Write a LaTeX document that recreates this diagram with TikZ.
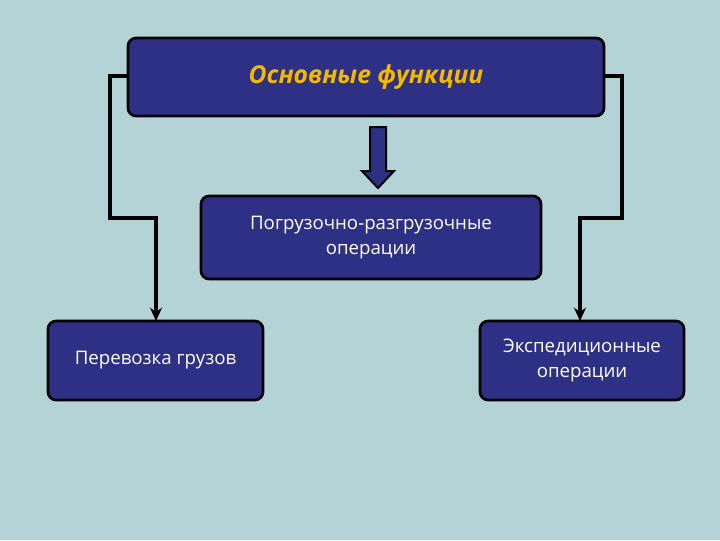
\documentclass[tikz,border=0pt]{standalone}
\usepackage{fontspec}
\setmainfont{Open Sans}
\usetikzlibrary{arrows.meta}
\definecolor{bg}{HTML}{B4D3D6}
\definecolor{navy}{HTML}{2E3085}
\definecolor{gold}{HTML}{F5B800}
\tikzset{
  box/.style={draw=black, line width=2pt, fill=navy, rounded corners=6pt, text=white, align=center, font=\fontsize{14}{19}\selectfont, inner sep=0pt},
  conn/.style={draw=black, line width=3pt, -{Stealth[length=10pt,width=9pt]}},
}
\begin{document}
\begin{tikzpicture}[x=0.75pt,y=-0.75pt]
\fill[bg] (0,0) rectangle (720,540);
\useasboundingbox (0,0) rectangle (720,540);
\node[box, minimum width=476*0.75pt, minimum height=78*0.75pt, text=gold, font=\fontsize{18.5}{22}\selectfont\bfseries\itshape] (top) at (366,77) {Основные функции};
\node[box, minimum width=340*0.75pt, minimum height=83*0.75pt] (mid) at (371,237.5) {Погрузочно-разгрузочные\\операции};
\node[box, minimum width=215*0.75pt, minimum height=79*0.75pt] (left) at (155.5,360.5) {Перевозка грузов};
\node[box, minimum width=204*0.75pt, minimum height=79*0.75pt] (right) at (582,360.5) {Экспедиционные\\операции};
\draw[line width=1.5pt, fill=navy, line join=miter]
  (370,127) -- (386,127) -- (386,171) -- (394,171) -- (378,188) -- (362,171) -- (370,171) -- cycle;
\coordinate (ls) at (128,76);
\coordinate (le) at (156,321);
\coordinate (rs) at (604,76);
\coordinate (re) at (580,321);
\path[conn] (ls) -- (110,76) -- (110,218) -- (156,218) -- (le);
\path[conn] (rs) -- (622,76) -- (622,218) -- (580,218) -- (re);
\end{tikzpicture}
\end{document}
